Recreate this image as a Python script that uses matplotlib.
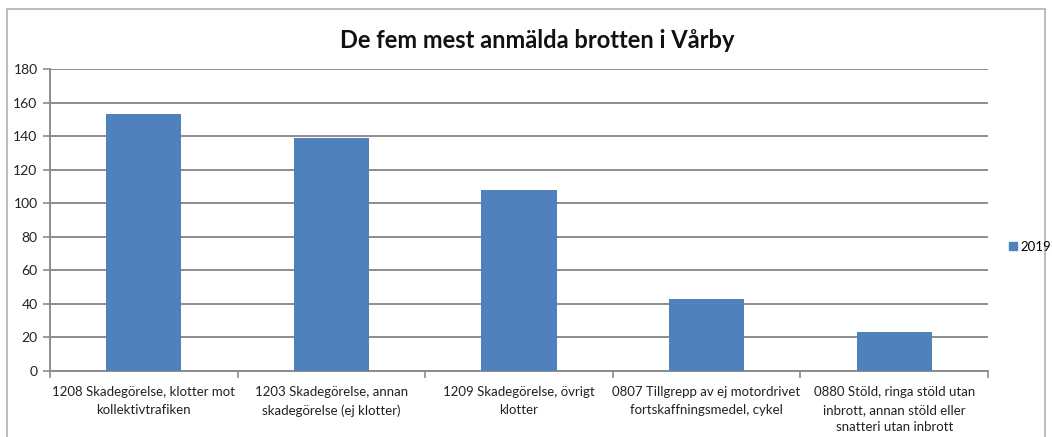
import matplotlib
matplotlib.use("Agg")
import matplotlib.pyplot as plt
from matplotlib.patches import Rectangle
from matplotlib.lines import Line2D

categories = [
    "1208 Skadegörelse, klotter mot\nkollektivtrafiken",
    "1203 Skadegörelse, annan\nskadegörelse (ej klotter)",
    "1209 Skadegörelse, övrigt\nklotter",
    "0807 Tillgrepp av ej motordrivet\nfortskaffningsmedel, cykel",
    "0880 Stöld, ringa stöld utan\ninbrott, annan stöld eller\nsnatteri utan inbrott",
]
values_2019 = [153, 139, 108, 43, 23]
series_name = "2019"
title = "De fem mest anmälda brotten i Vårby"
yticks = [0, 20, 40, 60, 80, 100, 120, 140, 160, 180]

plt.rcParams['font.family'] = ['Lato', 'DejaVu Sans']
fig = plt.figure(figsize=(10.52, 4.37), dpi=100)
fig.patch.set_facecolor("white")

# outer chart frame
fig.patches.append(Rectangle((7/1052, -0.05), (1045-7)/1052, 1.05 - 9/437,
                             transform=fig.transFigure, fill=False,
                             edgecolor="#b0b0b0", linewidth=1.2))

ax = fig.add_axes([50/1052, (437-371)/437, (988-50)/1052, (371-69)/437])
x = list(range(len(categories)))
bars = ax.bar(x, values_2019, width=0.4, color="#4f81bd", zorder=3, label=series_name)
ax.set_xlim(-0.5, len(categories) - 0.5)
ax.set_ylim(0, 180)
ax.set_yticks(yticks)
ax.set_yticklabels([str(v) for v in yticks], fontsize=10, color="#222222")
ax.yaxis.grid(True, color="#8c8c8c", linewidth=1.4, zorder=0)
ax.set_axisbelow(True)
for s in ["top", "right"]:
    ax.spines[s].set_visible(False)
ax.spines["left"].set_color("#8c8c8c")
ax.spines["left"].set_linewidth(1.4)
ax.spines["bottom"].set_color("#8c8c8c")
ax.spines["bottom"].set_linewidth(1.4)
ax.tick_params(axis="y", length=5, color="#8c8c8c", width=1.2, pad=4)

# category labels and boundary ticks
ax.set_xticks(x)
ax.set_xticklabels(categories, fontsize=9.5, color="#222222", linespacing=1.55)
ax.tick_params(axis="x", length=0, pad=11)
ax.set_xticks([i + 0.5 for i in range(-1, len(categories))], minor=True)
ax.tick_params(axis="x", which="minor", length=5, color="#8c8c8c", width=1.2)

fig.text(537/1052, 1 - 40/437, title, ha="center", va="center",
         fontsize=17, fontweight="bold", color="#111111")

handle = Line2D([], [], marker="s", linestyle="none", markersize=5.5,
                markerfacecolor="#4f81bd", markeredgecolor="#4f81bd")
fig.legend([handle], [series_name], loc="center left",
           bbox_to_anchor=(1008/1052, 1 - 247/437), frameon=False,
           fontsize=9.5, handletextpad=0.15, handlelength=0.8,
           borderpad=0, borderaxespad=0)

fig.savefig("out.png", dpi=100)
